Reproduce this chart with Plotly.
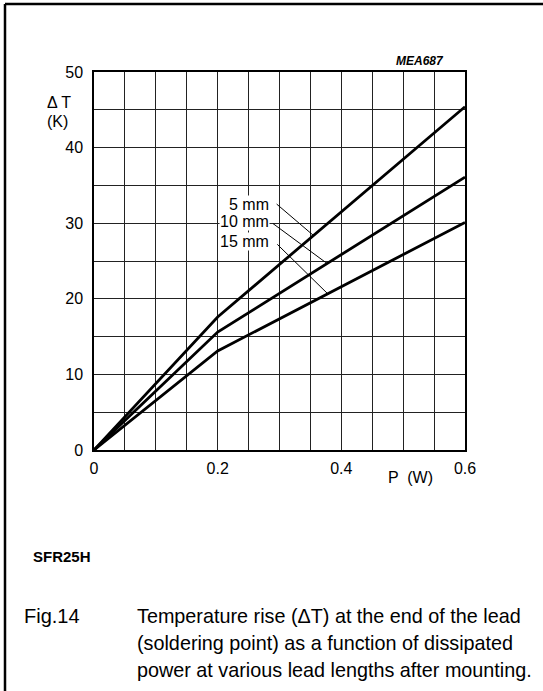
import numpy as np
import plotly.graph_objects as go

# power (W) and temperature rise (K) for each lead length
power = [0.0, 0.2, 0.6]
lead_lengths = ["5 mm", "10 mm", "15 mm"]
dt_5mm = [0.0, 17.6, 45.4]
dt_10mm = [0.0, 15.6, 36.1]
dt_15mm = [0.0, 13.1, 30.1]

x_grid = [round(i * 0.05, 2) for i in range(13)]
x_labels = ["0", "", "", "", "0.2", "", "", "", "0.4", "", "", "", "0.6"]
y_grid = list(range(0, 55, 5))
y_labels = ["0", "", "10", "", "20", "", "30", "", "40", "", "50"]

FONT = "Liberation Sans, Arial, Helvetica, sans-serif"
W, H = 543, 691
L, R, T, B = 94, 78, 72, 241
PW, PH = W - L - R, H - T - B


def px(x, y):
    # page pixel -> paper coords (relative to the plot area)
    return (x - L) / PW, (H - B - y) / PH


fig = go.Figure()
for ys in [dt_5mm, dt_10mm, dt_15mm]:
    fig.add_trace(go.Scatter(x=power, y=ys, mode="lines",
                             line=dict(color="black", width=2.8),
                             showlegend=False, hoverinfo="skip"))

# curve labels with leader lines
label_pos = [(0.285, 32.5, 0.293, 32.7, 0.355),
             (0.285, 30.2, 0.287, 30.1, 0.377),
             (0.285, 27.6, 0.294, 27.4, 0.378)]
for name, ys, (tx, ty, sx, sy, ex) in zip(lead_lengths, [dt_5mm, dt_10mm, dt_15mm], label_pos):
    fig.add_annotation(x=tx, y=ty, text=name, showarrow=False, xanchor="right",
                       yanchor="middle", font=dict(size=16, color="black", family=FONT),
                       bgcolor="white", borderpad=0)
    fig.add_annotation(x=ex, y=float(np.interp(ex, power, ys)), ax=sx, ay=sy,
                       axref="x", ayref="y", text="", showarrow=True,
                       arrowhead=0, arrowwidth=1, arrowcolor="black")

fig.update_xaxes(range=[0, 0.6], tickvals=x_grid, ticktext=x_labels,
                 showgrid=True, gridcolor="#222", gridwidth=1,
                 showline=True, linecolor="black", linewidth=1.5, mirror=True,
                 ticks="", zeroline=False, ticklabelstandoff=3,
                 tickfont=dict(size=16, color="black", family=FONT))
fig.update_yaxes(range=[0, 50], tickvals=y_grid, ticktext=y_labels,
                 showgrid=True, gridcolor="#222", gridwidth=1,
                 showline=True, linecolor="black", linewidth=1.5, mirror=True,
                 ticks="", zeroline=False, ticklabelstandoff=6,
                 tickfont=dict(size=16, color="black", family=FONT))

texts = [
    (45, 103, "Δ T", "left", 16),
    (45, 121, "(K)", "left", 16),
    (410, 478, "P  (W)", "center", 16),
    (446, 61, "<b><i>MEA687</i></b>", "right", 12),
    (31, 556, "<b>SFR25H</b>", "left", 15),
    (22, 616, "Fig.14", "left", 20),
    (135, 616, "Temperature rise (ΔT) at the end of the lead", "left", 19.8),
    (135, 643, "(soldering point) as a function of dissipated", "left", 19.8),
    (135, 670, "power at various lead lengths after mounting.", "left", 19.8),
]
for x, y, text, anchor, size in texts:
    ax_, ay_ = px(x, y)
    fig.add_annotation(x=ax_, y=ay_, xref="paper", yref="paper", text=text,
                       showarrow=False, xanchor=anchor, yanchor="middle",
                       font=dict(size=size, color="black", family=FONT))

# page frame (left and top edges)
x0, y0 = px(5, 4)
x1, _ = px(W + 10, 4)
_, y1 = px(5, H + 10)
fig.add_shape(type="line", xref="paper", yref="paper", x0=x0, x1=x1, y0=y0, y1=y0,
              line=dict(color="black", width=2.5))
fig.add_shape(type="line", xref="paper", yref="paper", x0=x0, x1=x0, y0=y1, y1=y0,
              line=dict(color="black", width=2.5))

fig.update_layout(width=W, height=H, plot_bgcolor="white", paper_bgcolor="white",
                  margin=dict(l=L, r=R, t=T, b=B),
                  font=dict(family=FONT, color="black"))

fig.write_html("out.html", config={"displayModeBar": False},
               post_script="document.body.style.margin='0';")
